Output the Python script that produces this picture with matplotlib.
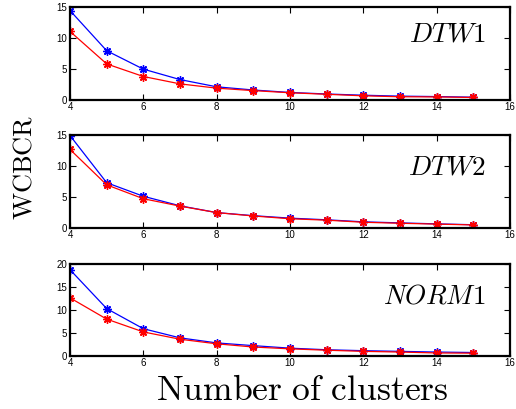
import matplotlib
matplotlib.use("Agg")
import matplotlib.pyplot as plt

plt.rcParams['mathtext.fontset'] = 'cm'
plt.rcParams['font.family'] = ['Liberation Sans', 'DejaVu Sans']

clusters = [4, 5, 6, 7, 8, 9, 10, 11, 12, 13, 14, 15]

dtw1_blue = [14.5, 7.95, 4.95, 3.25, 2.07, 1.55, 1.15, 0.9, 0.7, 0.55, 0.48, 0.38]
dtw1_red = [11.1, 5.8, 3.75, 2.55, 1.85, 1.45, 1.1, 0.85, 0.6, 0.45, 0.42, 0.33]

dtw2_blue = [14.95, 7.3, 5.1, 3.55, 2.45, 1.95, 1.55, 1.28, 0.95, 0.78, 0.62, 0.48]
dtw2_red = [12.7, 6.95, 4.7, 3.5, 2.45, 1.9, 1.45, 1.22, 0.88, 0.72, 0.58, 0.45]

norm1_blue = [18.8, 10.3, 5.9, 3.9, 2.8, 2.2, 1.65, 1.3, 1.1, 0.95, 0.8, 0.7]
norm1_red = [12.65, 8.0, 5.2, 3.6, 2.6, 1.9, 1.5, 1.2, 0.95, 0.8, 0.6, 0.55]

labels = [r'$DTW1$', r'$DTW2$', r'$NORM1$']
ylims = [15, 15, 20]
yticks_list = [[0, 5, 10, 15], [0, 5, 10, 15], [0, 5, 10, 15, 20]]
xticks = [4, 6, 8, 10, 12, 14, 16]

fig = plt.figure(figsize=(5.16, 4.09), dpi=100)
positions = [
    [0.1357, 0.7567, 0.8527, 0.225],
    [0.1357, 0.4433, 0.8527, 0.226],
    [0.1357, 0.1303, 0.8527, 0.2237],
]
label_y = [0.628, 0.578, 0.573]
series = [(dtw1_blue, dtw1_red), (dtw2_blue, dtw2_red), (norm1_blue, norm1_red)]

asterisk = (8, 2, 0)
for i in range(3):
    ax = fig.add_axes(positions[i])
    b, r = series[i]
    ax.plot(clusters, b, color='blue', lw=0.9, marker=asterisk, ms=6, mew=1.0)
    ax.plot(clusters, r, color='red', lw=0.9, marker=asterisk, ms=6, mew=1.0)
    ax.set_xlim(4, 16)
    ax.set_ylim(0, ylims[i])
    ax.set_xticks(xticks)
    ax.set_yticks(yticks_list[i])
    ax.tick_params(direction='in', top=True, right=True, length=4, width=0.8,
                   labelsize=7, pad=2)
    for s in ax.spines.values():
        s.set_linewidth(1.6)
    ax.text(0.945, label_y[i], labels[i], transform=ax.transAxes,
            ha='right', va='baseline', fontsize=19.5)

fig.text(25 / 516, 1 - 167 / 409, r'$\mathrm{WCBCR}$', rotation=90,
         ha='center', va='center', fontsize=19)
fig.text(302 / 516, 9 / 409, r'$\mathrm{Number\ of\ clusters}$',
         ha='center', va='baseline', fontsize=25.6)

fig.savefig('out.png', dpi=100)
